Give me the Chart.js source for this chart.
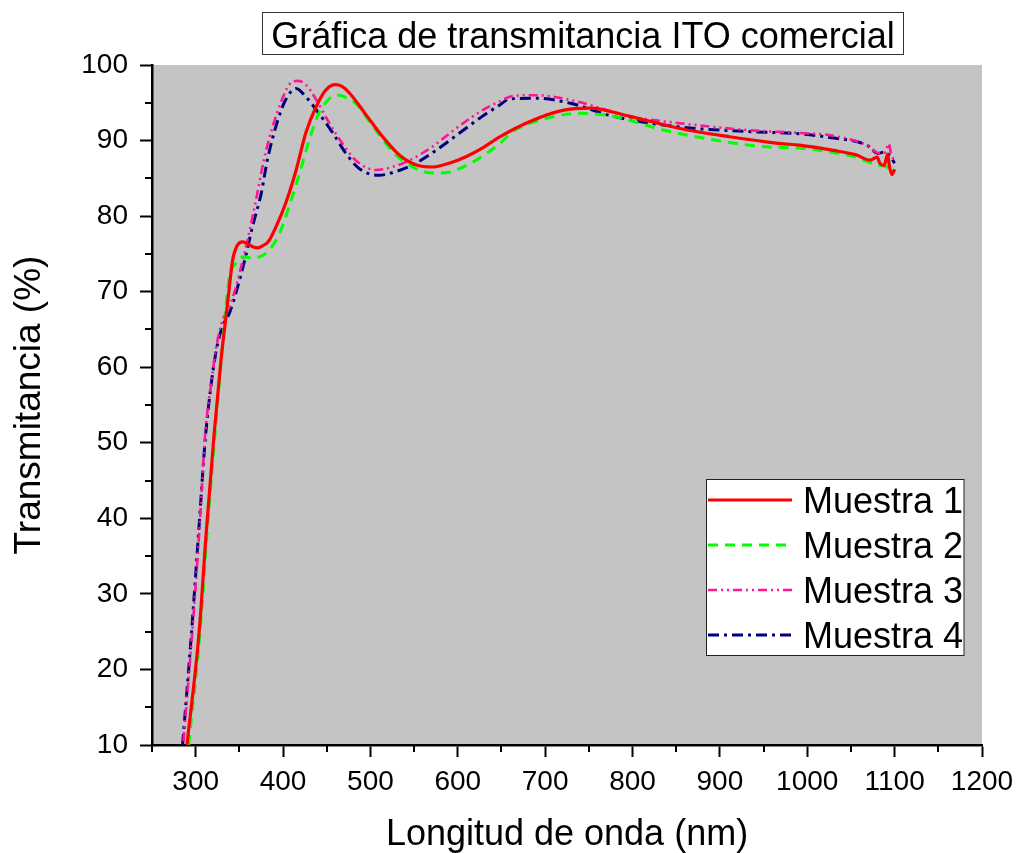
<!DOCTYPE html>
<html>
<head>
<meta charset="utf-8">
<script src="https://cdn.jsdelivr.net/npm/chart.js@4.4.1/dist/chart.umd.min.js"></script>
<style>
    body { margin: 0; background: #fff; }
    #wrap { width: 1018px; height: 853px; }
</style>
</head>
<body>
<div id="wrap"><canvas id="grafica" width="1018" height="853"></canvas></div>
<script>
// Muestra 1
const wl1 = [290, 304, 312, 321, 329, 334, 338, 342, 347, 354, 360, 366, 371, 377, 383, 392, 403, 415, 426, 438, 449, 460, 467, 476, 495, 514, 533, 552, 571, 590, 610, 628, 648, 682, 720, 751, 797, 854, 911, 969, 991, 1030, 1056, 1072, 1080, 1083, 1088, 1092, 1094, 1097, 1100]
const tr1 = [10, 25, 38, 51, 61, 66, 70, 74, 76, 76.6, 76.3, 75.9, 75.8, 76.1, 76.6, 78.6, 81.7, 86.1, 91, 94.5, 96.7, 97.4, 97.2, 96.3, 93.4, 90.5, 88.1, 86.8, 86.5, 87, 87.9, 89, 90.5, 92.5, 94, 94.3, 93.2, 91.6, 90.5, 89.6, 89.4, 88.7, 88.1, 87.4, 87.8, 87, 86.7, 88.2, 86.6, 85.5, 86.2]

// Muestra 2
const wl2 = [292, 305, 313, 322, 330, 338, 346, 353, 363, 373, 384, 396, 407, 419, 430, 441, 451, 457, 463, 470, 483, 506, 529, 552, 571, 590, 598, 621, 648, 663, 701, 739, 778, 835, 892, 949, 991, 1026, 1052, 1079, 1091, 1100]
const tr2 = [10, 25, 38, 51, 62, 71.5, 73.8, 74.6, 74.5, 74.6, 75.5, 77.7, 81.3, 85.7, 90.1, 93.6, 95.3, 95.9, 96, 95.8, 94.9, 91.4, 88.1, 86.3, 85.7, 85.8, 86.1, 87.4, 89.6, 91.2, 92.9, 93.6, 93.2, 91.4, 90.1, 89.2, 89, 88.5, 87.9, 86.8, 86.5, 85.9]

// Muestra 3
const wl3 = [286, 296, 304, 311, 318, 323, 331, 337, 344, 354, 361, 369, 378, 388, 397, 407, 417, 426, 438, 453, 468, 483, 506, 525, 545, 571, 598, 628, 648, 663, 690, 735, 797, 854, 930, 991, 1026, 1068, 1083, 1090, 1093, 1096, 1100]
const tr3 = [10.5, 24.8, 38, 51.3, 58, 62.3, 66.3, 67.5, 69.8, 74.2, 77.7, 82.1, 87.4, 91.8, 94.9, 97.4, 97.9, 97.4, 95.4, 92.3, 89.6, 87.4, 86.1, 86.5, 87.4, 89.2, 91.6, 94, 95.2, 95.9, 96, 95.2, 93.2, 92.3, 91.4, 91, 90.7, 89.4, 88.3, 88.5, 89.6, 88.3, 87.2]

// Muestra 4
const wl4 = [285, 295, 303, 311, 318, 324, 331, 338, 346, 357, 365, 375, 382, 394, 403, 415, 426, 441, 457, 472, 487, 510, 529, 552, 575, 602, 628, 648, 659, 690, 730, 778, 854, 930, 991, 1026, 1068, 1081, 1089, 1095, 1100]
const tr4 = [10, 24.5, 37.5, 50.5, 58, 62.5, 65.5, 67, 69.8, 74.6, 78.6, 83, 87.4, 92.7, 95.4, 96.9, 95.8, 93.6, 91, 88.3, 86.3, 85.4, 85.9, 87, 88.7, 91, 93.2, 94.7, 95.5, 95.6, 94.9, 93.2, 91.8, 91.2, 90.9, 90.4, 89.4, 88.3, 88.5, 87.9, 87]

const labels = ["Muestra 1", "Muestra 2", "Muestra 3", "Muestra 4"]
const colores = ["#ff0000", "#00ff00", "#ff1493", "#000080"]
const xTicks = [300, 400, 500, 600, 700, 800, 900, 1000, 1100, 1200]
const yTicks = [10, 20, 30, 40, 50, 60, 70, 80, 90, 100]

const FONT = "'Liberation Sans', Arial, sans-serif"

const toPoints = (wl, tr) => wl.map((x, i) => ({ x: x, y: tr[i] }))

// Gray plot background
const plotBackground = {
    id: 'plotBackground',
    beforeDraw: chart => {
        const { ctx, chartArea: a } = chart
        ctx.save()
        ctx.fillStyle = '#c4c4c4'
        ctx.fillRect(a.left, a.top, a.right - a.left, a.bottom - a.top)
        ctx.restore()
    }
}

// Short minor ticks between the labelled ones
const minorTicks = {
    id: 'minorTicks',
    afterDraw: chart => {
        const { ctx, chartArea: a, scales } = chart
        ctx.save()
        ctx.strokeStyle = '#000'
        ctx.lineWidth = 2
        for (let v = 250; v < 1200; v += 100) {
            const px = Math.round(scales.x.getPixelForValue(v))
            ctx.beginPath()
            ctx.moveTo(px, a.bottom)
            ctx.lineTo(px, a.bottom + 7)
            ctx.stroke()
        }
        for (let v = 15; v < 100; v += 10) {
            const py = Math.round(scales.y.getPixelForValue(v))
            ctx.beginPath()
            ctx.moveTo(a.left, py)
            ctx.lineTo(a.left - 7, py)
            ctx.stroke()
        }
        ctx.restore()
    }
}

// Boxed title on top
const boxedTitle = {
    id: 'boxedTitle',
    afterDraw: chart => {
        const { ctx } = chart
        ctx.save()
        ctx.strokeStyle = '#333'
        ctx.lineWidth = 1
        ctx.strokeRect(262.5, 12.5, 641, 42)
        ctx.fillStyle = '#000'
        ctx.font = '36px ' + FONT
        ctx.textAlign = 'center'
        ctx.textBaseline = 'alphabetic'
        ctx.fillText('Gráfica de transmitancia ITO comercial', 583, 48)
        ctx.restore()
    }
}

// Legend box inside the plot area
const innerLegend = {
    id: 'innerLegend',
    afterDraw: chart => {
        const { ctx } = chart
        ctx.save()
        ctx.fillStyle = '#fff'
        ctx.fillRect(706.5, 479.5, 257.5, 176)
        ctx.strokeStyle = '#222'
        ctx.lineWidth = 1
        ctx.strokeRect(706.5, 479.5, 257.5, 176)
        chart.data.datasets.forEach((ds, i) => {
            const y = 500 + i * 45
            ctx.strokeStyle = ds.borderColor
            ctx.lineWidth = ds.borderWidth
            ctx.setLineDash(ds.borderDash || [])
            ctx.beginPath()
            ctx.moveTo(708, y)
            ctx.lineTo(792, y)
            ctx.stroke()
            ctx.setLineDash([])
            ctx.fillStyle = '#000'
            ctx.font = '36px ' + FONT
            ctx.textAlign = 'left'
            ctx.textBaseline = 'alphabetic'
            ctx.fillText(ds.label, 803, y + 13)
        })
        ctx.restore()
    }
}

const ctx = document.getElementById('grafica')

const chart = new Chart(ctx, {
    type: 'line',
    data: {
        datasets: [{
            label: labels[0],
            data: toPoints(wl1, tr1),
            borderColor: colores[0],
            borderWidth: 3.2,
            borderDash: []
        }, {
            label: labels[1],
            data: toPoints(wl2, tr2),
            borderColor: colores[1],
            borderWidth: 3,
            borderDash: [10, 7]
        }, {
            label: labels[2],
            data: toPoints(wl3, tr3),
            borderColor: colores[2],
            borderWidth: 2.6,
            borderDash: [9, 4, 2, 4, 2, 4]
        }, {
            label: labels[3],
            data: toPoints(wl4, tr4),
            borderColor: colores[3],
            borderWidth: 3,
            borderDash: [11, 5, 3, 5]
        }]
    },
    options: {
        responsive: false,
        animation: false,
        layout: {
            padding: { top: 65, right: 36, left: 0, bottom: 0 }
        },
        elements: {
            point: { radius: 0 },
            line: { cubicInterpolationMode: 'monotone', fill: false }
        },
        plugins: {
            legend: { display: false },
            title: { display: false },
            tooltip: { enabled: false }
        },
        scales: {
            x: {
                type: 'linear',
                min: 250,
                max: 1200,
                afterFit: s => {
                    s.height = 108
                    s.paddingLeft = 0
                    s.paddingRight = 0
                },
                afterBuildTicks: s => { s.ticks = xTicks.map(v => ({ value: v })) },
                border: { display: true, color: '#000', width: 2.5 },
                grid: {
                    drawOnChartArea: false,
                    drawTicks: true,
                    tickLength: 12,
                    tickWidth: 2,
                    tickColor: '#000'
                },
                ticks: {
                    autoSkip: false,
                    maxRotation: 0,
                    padding: 8,
                    color: '#000',
                    font: { family: FONT, size: 28 },
                    callback: v => String(v)
                },
                title: {
                    display: true,
                    text: 'Longitud de onda (nm)',
                    color: '#000',
                    font: { family: FONT, size: 36, lineHeight: 1 },
                    padding: { top: 0, bottom: 0 }
                }
            },
            y: {
                min: 10,
                max: 100,
                afterFit: s => {
                    s.width = 152
                    s.paddingTop = 0
                    s.paddingBottom = 0
                },
                afterBuildTicks: s => { s.ticks = yTicks.map(v => ({ value: v })) },
                border: { display: true, color: '#000', width: 2.5 },
                grid: {
                    drawOnChartArea: false,
                    drawTicks: true,
                    tickLength: 12,
                    tickWidth: 2,
                    tickColor: '#000'
                },
                ticks: {
                    padding: 12,
                    color: '#000',
                    font: { family: FONT, size: 28 },
                    callback: v => String(v)
                },
                title: {
                    display: true,
                    text: 'Transmitancia (%)',
                    color: '#000',
                    font: { family: FONT, size: 37 },
                    padding: { top: 8, bottom: 0 }
                }
            }
        }
    },
    plugins: [plotBackground, minorTicks, boxedTitle, innerLegend]
})
</script>
</body>
</html>
